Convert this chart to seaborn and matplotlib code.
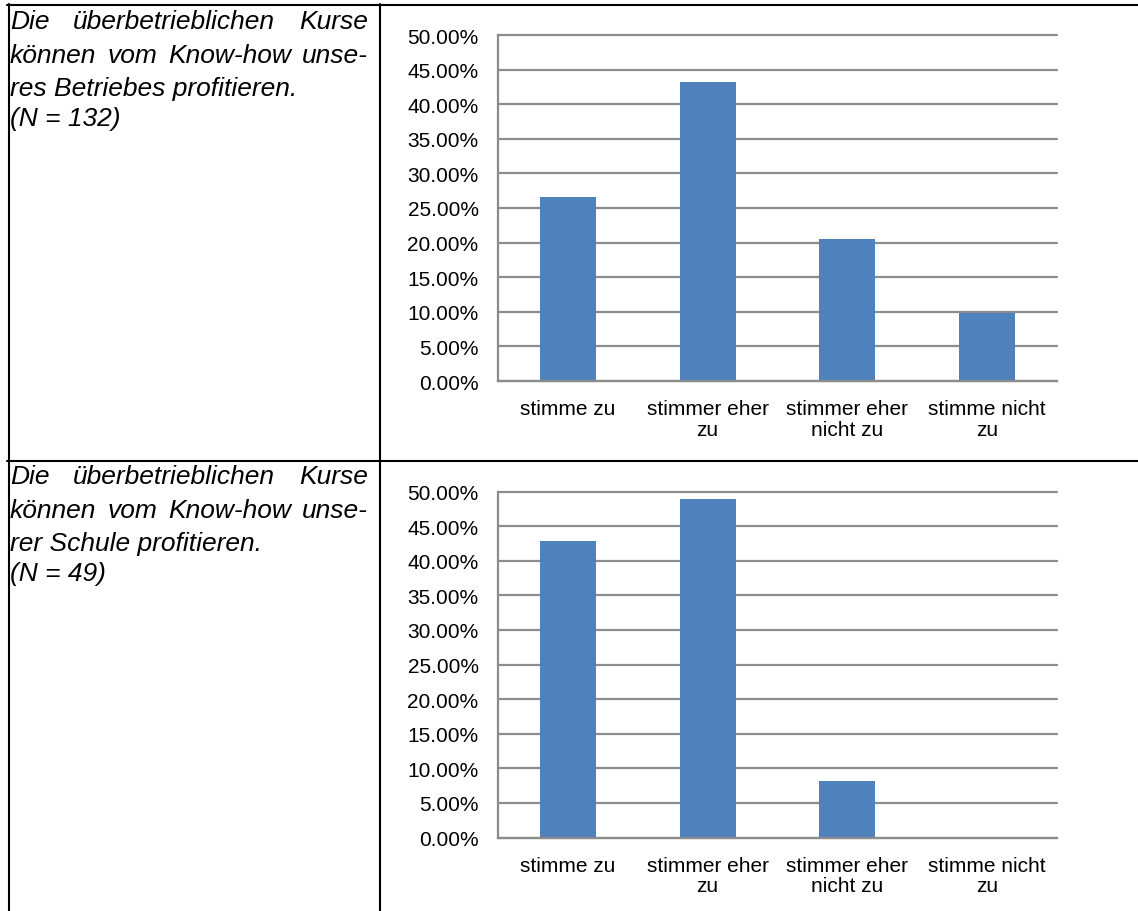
import matplotlib
matplotlib.use("Agg")
import matplotlib.pyplot as plt
from matplotlib.lines import Line2D
from matplotlib.ticker import MultipleLocator, FuncFormatter
import seaborn as sns
import pandas as pd

# Answer categories and shares (percent of respondents)
categories = ["stimme zu", "stimmer eher\nzu", "stimmer eher\nnicht zu", "stimme nicht\nzu"]
betrieb_pct = [26.52, 43.18, 20.45, 9.85]   # N = 132
schule_pct = [42.86, 48.98, 8.16, 0.00]     # N = 49

row1_lines = ["Die überbetrieblichen Kurse", "können vom Know-how unse-",
              "res Betriebes profitieren.", "(N = 132)"]
row2_lines = ["Die überbetrieblichen Kurse", "können vom Know-how unse-",
              "rer Schule profitieren.", "(N = 49)"]

W, H = 1138, 912
BLUE = "#4F81BD"
GRID = "#8C8C8C"
TEXT_SIZE = 19
TICK_SIZE = 15

sns.set_theme(style="white")
plt.rcParams["font.family"] = ["Liberation Sans", "DejaVu Sans"]
plt.rcParams["text.color"] = "black"
plt.rcParams["xtick.color"] = "black"
plt.rcParams["ytick.color"] = "black"

fig = plt.figure(figsize=(W / 100, H / 100), dpi=100)
fig.patch.set_facecolor("white")


def fx(x):
    return x / W


def fy(y):
    return 1 - y / H


def px_rect(left, top, right, bottom):
    return [fx(left), fy(bottom), (right - left) / W, (bottom - top) / H]


def draw_chart(rect, values):
    ax = fig.add_axes(rect)
    df = pd.DataFrame({"Antwort": categories, "Anteil": values})
    sns.barplot(data=df, x="Antwort", y="Anteil", color=BLUE, width=0.4,
                saturation=1, linewidth=0, ax=ax)
    ax.set_xlim(-0.5, 3.5)
    ax.set_ylim(0, 50)
    ax.yaxis.set_major_locator(MultipleLocator(5))
    ax.yaxis.set_major_formatter(FuncFormatter(lambda v, _: f"{v:.2f}%"))
    ax.set_axisbelow(True)
    ax.grid(axis="y", color=GRID, linewidth=1.6)
    for gl in ax.yaxis.get_gridlines():
        gl.set_clip_on(False)
    for side in ("top", "right"):
        ax.spines[side].set_visible(False)
    for side in ("left", "bottom"):
        ax.spines[side].set_color(GRID)
        ax.spines[side].set_linewidth(1.6)
    ax.tick_params(axis="y", length=0, labelsize=TICK_SIZE, pad=14, labelcolor="black")
    ax.tick_params(axis="x", length=0, labelsize=TICK_SIZE, pad=13, labelcolor="black")
    for lab in ax.get_xticklabels():
        lab.set_multialignment("center")
        lab.set_linespacing(1.1)
    ax.set_xlabel("")
    ax.set_ylabel("")
    return ax


draw_chart(px_rect(498, 36, 1057, 382), betrieb_pct)
draw_chart(px_rect(498, 492.5, 1057, 838.5), schule_pct)

# Table frame
frame = dict(color="black", linewidth=1.5, transform=fig.transFigure, clip_on=False)
fig.add_artist(Line2D([fx(7), fx(W)], [fy(5.5), fy(5.5)], **frame))
fig.add_artist(Line2D([fx(7), fx(W)], [fy(461.5), fy(461.5)], **frame))
fig.add_artist(Line2D([fx(8.5), fx(8.5)], [fy(5), fy(H)], **frame))
fig.add_artist(Line2D([fx(380), fx(380)], [fy(5), fy(H)], **frame))

renderer = fig.canvas.get_renderer()
text_kw = dict(fontsize=TEXT_SIZE, style="italic", va="baseline", ha="left", color="black")


def justified(line, y, x0=10, x1=368):
    words = line.split(" ")
    items = [fig.text(fx(x0), fy(y), w, **text_kw) for w in words]
    widths = [t.get_window_extent(renderer).width for t in items]
    gap = (x1 - x0 - sum(widths)) / max(len(words) - 1, 1)
    x = x0
    for t, w in zip(items, widths):
        t.set_x(fx(x))
        x += w + gap


def cell_text(lines, baselines):
    justified(lines[0], baselines[0])
    justified(lines[1], baselines[1])
    for line, y in zip(lines[2:], baselines[2:]):
        fig.text(fx(10), fy(y), line, **text_kw)


cell_text(row1_lines, [29.3, 62.7, 96, 125.7])
cell_text(row2_lines, [484.3, 517.7, 551, 580.7])

fig.savefig("out.png", dpi=100, facecolor="white")
